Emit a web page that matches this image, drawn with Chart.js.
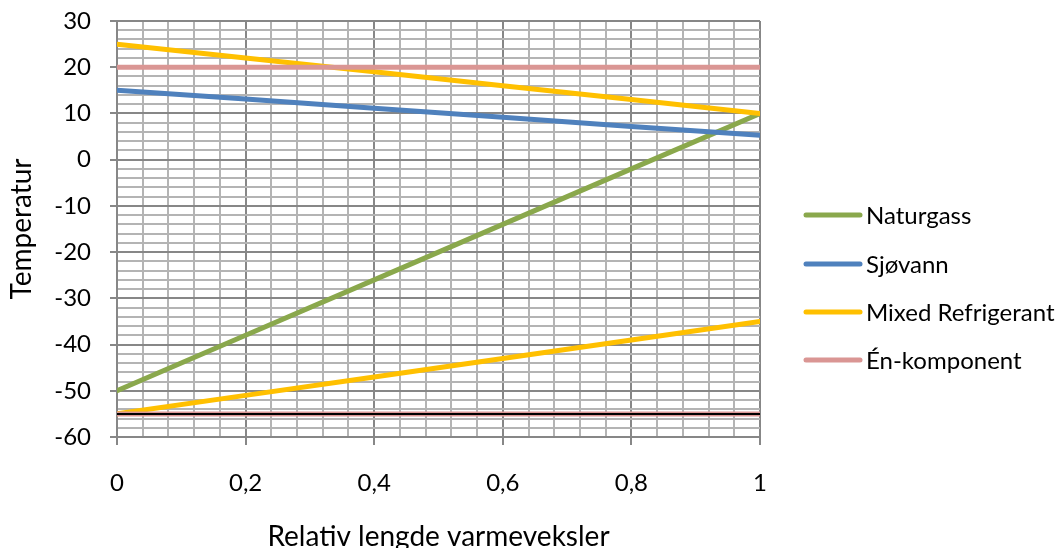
<!DOCTYPE html>
<html>
<head>
<meta charset="utf-8">
<script src="https://cdn.jsdelivr.net/npm/chart.js@4.4.1/dist/chart.umd.min.js"></script>
<style>
  html, body { margin: 0; padding: 0; background: #ffffff; }
  #wrap { width: 1062px; height: 548px; position: relative; }
</style>
</head>
<body>
<div id="wrap"><canvas id="c" width="1062" height="548"></canvas></div>
<script>
// Relative position along the heat exchanger
const positions = [0, 0.2, 0.4, 0.6, 0.8, 1];

// Temperature profiles (°C)
const naturgass   = [-50, -38, -26, -14, -2, 10];
const sjovann     = [15, 13.1, 11.1, 9.2, 7.2, 5.3];
const mrWarm      = [25, 22, 19, 16, 13, 10];
const mrCold      = [-55, -51, -47, -43, -39, -35];
const enKompWarm  = [20, 20, 20, 20, 20, 20];
const enKompCold  = [-55, -55, -55, -55, -55, -55];

const seriesNames = ['Naturgass', 'Sjøvann', 'Mixed Refrigerant', 'Én-komponent'];

const FONT = 'Lato, "Open Sans", sans-serif';
const C_GREEN = '#8aa84c';
const C_BLUE = '#4f81bd';
const C_YELLOW = '#ffc000';
const C_PINK = '#da9694';

const pts = arr => arr.map((v, i) => ({ x: positions[i], y: v }));

function line(label, arr, color, width, inLegend) {
  return {
    label, data: pts(arr), borderColor: color, backgroundColor: color,
    borderWidth: width, pointRadius: 0, tension: 0, fill: false,
    borderCapStyle: 'round', inLegend
  };
}

// Chart.js paints the first dataset on top, so the list runs top-down
const datasets = [
  line('', enKompCold, '#000000', 2, false),
  line(seriesNames[3], enKompCold, C_PINK, 5, false),
  line(seriesNames[3], enKompWarm, C_PINK, 5, true),
  line(seriesNames[2], mrCold, C_YELLOW, 5, false),
  line(seriesNames[2], mrWarm, C_YELLOW, 5, true),
  line(seriesNames[1], sjovann, C_BLUE, 5, true),
  line(seriesNames[0], naturgass, C_GREEN, 5, true)
];

// Legend drawn at the right of the plot, in series order
const sideLegend = {
  id: 'sideLegend',
  afterDraw(chart) {
    const ctx = chart.ctx;
    const items = seriesNames.map(n => chart.data.datasets.find(d => d.label === n && d.inLegend));
    const rows = [215, 264, 312, 360];
    ctx.save();
    ctx.font = '24px ' + FONT;
    ctx.textBaseline = 'middle';
    ctx.fillStyle = '#000000';
    items.forEach((ds, i) => {
      const y = rows[i];
      ctx.strokeStyle = ds.borderColor;
      ctx.lineWidth = 5;
      ctx.lineCap = 'round';
      ctx.beginPath();
      ctx.moveTo(806, y);
      ctx.lineTo(860, y);
      ctx.stroke();
      ctx.fillText(ds.label, 866, y + 1);
    });
    ctx.restore();
  }
};

const isMajorX = v => Math.abs(v * 5 - Math.round(v * 5)) < 1e-6;
const isMajorY = v => Math.abs(v / 10 - Math.round(v / 10)) < 1e-6;

new Chart(document.getElementById('c'), {
  type: 'line',
  data: { datasets },
  options: {
    responsive: false,
    animation: false,
    events: [],
    layout: { padding: { left: 0, top: 21, right: 302, bottom: 0 } },
    plugins: { legend: { display: false }, tooltip: { enabled: false } },
    scales: {
      x: {
        type: 'linear', min: 0, max: 1,
        afterFit(s) { s.height = 111; s.paddingLeft = 0; s.paddingRight = 0; },
        ticks: {
          stepSize: 0.04, autoSkip: false, maxRotation: 0, padding: 24,
          color: '#000000', font: { family: FONT, size: 24 },
          callback: v => isMajorX(v) ? String(Math.round(v * 5) / 5).replace('.', ',') : ''
        },
        grid: {
          color: c => isMajorX(c.tick.value) ? '#878787' : '#b4b4b4',
          lineWidth: 2,
          tickLength: 8,
          tickColor: c => isMajorX(c.tick.value) ? '#878787' : 'rgba(0,0,0,0)'
        },
        border: { color: '#878787', width: 2 },
        title: {
          display: true, text: 'Relativ lengde varmeveksler', color: '#000000',
          font: { family: FONT, size: 28, lineHeight: 1 }, padding: { top: 0, bottom: -3 }
        }
      },
      y: {
        min: -60, max: 30,
        afterFit(s) { s.width = 117; s.paddingTop = 0; s.paddingBottom = 0; },
        ticks: {
          stepSize: 2, autoSkip: false, padding: 19,
          color: '#000000', font: { family: FONT, size: 24 },
          callback: v => isMajorY(v) ? String(v) : ''
        },
        grid: {
          color: c => isMajorY(c.tick.value) ? '#878787' : '#b4b4b4',
          lineWidth: 2,
          tickLength: 7,
          tickColor: c => isMajorY(c.tick.value) ? '#878787' : 'rgba(0,0,0,0)'
        },
        border: { color: '#878787', width: 2 },
        title: {
          display: true, text: 'Temperatur', color: '#000000',
          font: { family: FONT, size: 28, lineHeight: 1 }, padding: { top: 8, bottom: 0 }
        }
      }
    }
  },
  plugins: [sideLegend]
});
</script>
</body>
</html>
